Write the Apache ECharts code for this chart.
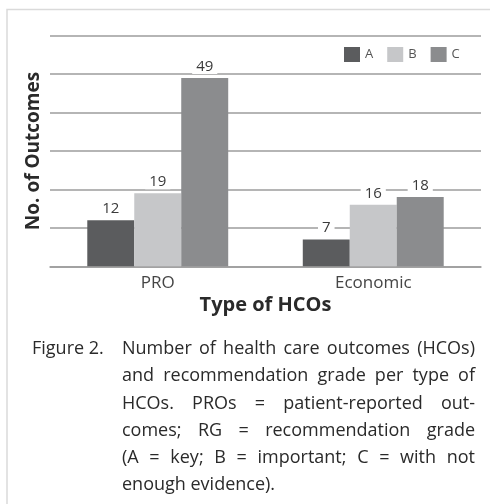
<!DOCTYPE html>
<html>
<head>
<meta charset="utf-8">
<script src="https://cdn.jsdelivr.net/npm/echarts@6/dist/echarts.min.js"></script>
<style>
  html, body { margin: 0; padding: 0; background: #fff; }
  #chart { width: 490px; height: 504px; }
</style>
</head>
<body>
<div id="chart"></div>
<script>
// Types of health care outcomes and counts per recommendation grade
const categories = ['PRO', 'Economic'];
const seriesNames = ['A', 'B', 'C'];
const gradeA = [12, 7];
const gradeB = [19, 16];
const gradeC = [49, 18];

const yMin = 0, yMax = 60, yStep = 10;

const captionTag = 'Figure 2.';
const captionLines = [
  'Number of health care outcomes (HCOs)',
  'and recommendation grade per type of',
  'HCOs. PROs = patient-reported out-',
  'comes; RG = recommendation grade',
  '(A = key; B = important; C = with not',
  'enough evidence).'
];

const FONT = '"Open Sans", "DejaVu Sans", sans-serif';
const colors = ['#5b5c5e', '#c6c7c9', '#8b8c8e'];
const gridColor = '#9c9c9c';

// Caption: justified block of text beside the figure tag
const capFont = '18px ' + FONT;
const capLeft = 122, capRight = 475, capTop = 349, capLead = 27.2;
const measure = document.createElement('canvas').getContext('2d');
measure.font = capFont;
const captionGraphics = [];
captionGraphics.push({
  type: 'text', x: 32, y: capTop,
  style: { text: captionTag, font: capFont, fill: '#2a2a2a', verticalAlign: 'middle' }
});
captionLines.forEach((line, i) => {
  const y = capTop + i * capLead;
  const words = line.split(' ');
  const last = i === captionLines.length - 1;
  const widths = words.map(w => measure.measureText(w).width);
  const total = widths.reduce((a, b) => a + b, 0);
  const space = last ? measure.measureText(' ').width
                     : (capRight - capLeft - total) / (words.length - 1);
  let x = capLeft;
  words.forEach((w, k) => {
    captionGraphics.push({
      type: 'text', x: x, y: y,
      style: { text: w, font: capFont, fill: '#2a2a2a', verticalAlign: 'middle' }
    });
    x += widths[k] + space;
  });
});

const valueLabel = {
  show: true,
  position: 'top',
  distance: 4,
  fontFamily: FONT,
  fontSize: 15,
  color: '#3a3a3a',
  backgroundColor: '#ffffff',
  padding: [0, 4]
};

function barSeries(name, data, color) {
  return {
    name: name,
    type: 'bar',
    data: data,
    barGap: '0%',
    barCategoryGap: '34.6%',
    itemStyle: { color: color },
    label: valueLabel
  };
}

const chart = echarts.init(document.getElementById('chart'), null, { renderer: 'canvas' });
chart.setOption({
  animation: false,
  backgroundColor: '#ffffff',
  textStyle: { fontFamily: FONT },
  grid: { left: 50, right: 9, top: 35.7, bottom: 237.7, containLabel: false },
  legend: {
    data: seriesNames,
    left: 344,
    top: 47,
    padding: 0,
    itemWidth: 16,
    itemHeight: 15,
    itemGap: 14,
    icon: 'rect',
    textStyle: { fontFamily: FONT, fontSize: 13, color: '#555' }
  },
  xAxis: {
    type: 'category',
    data: categories,
    name: 'Type of HCOs',
    nameLocation: 'middle',
    nameGap: 29,
    nameTextStyle: { fontFamily: FONT, fontSize: 20, fontWeight: 'bold', color: '#2a2a2a' },
    axisLine: { show: true, lineStyle: { color: gridColor, width: 1.5 } },
    axisTick: { show: false },
    axisLabel: { margin: 8, fontFamily: FONT, fontSize: 17, color: '#454545' }
  },
  yAxis: {
    type: 'value',
    min: yMin,
    max: yMax,
    interval: yStep,
    name: 'No. of Outcomes',
    nameLocation: 'middle',
    nameGap: 7,
    nameTextStyle: { fontFamily: FONT, fontSize: 19, fontWeight: 'bold', color: '#2a2a2a' },
    axisLine: { show: false },
    axisTick: { show: false },
    axisLabel: { show: false },
    splitLine: { show: true, lineStyle: { color: gridColor, width: 1.5 } }
  },
  series: [
    barSeries(seriesNames[0], gradeA, colors[0]),
    barSeries(seriesNames[1], gradeB, colors[1]),
    barSeries(seriesNames[2], gradeC, colors[2])
  ],
  graphic: [
    {
      type: 'rect',
      shape: { x: 7, y: 9.5, width: 520, height: 520 },
      style: { fill: 'none', stroke: '#dadada', lineWidth: 1.5 },
      silent: true
    }
  ].concat(captionGraphics)
});
</script>
</body>
</html>
